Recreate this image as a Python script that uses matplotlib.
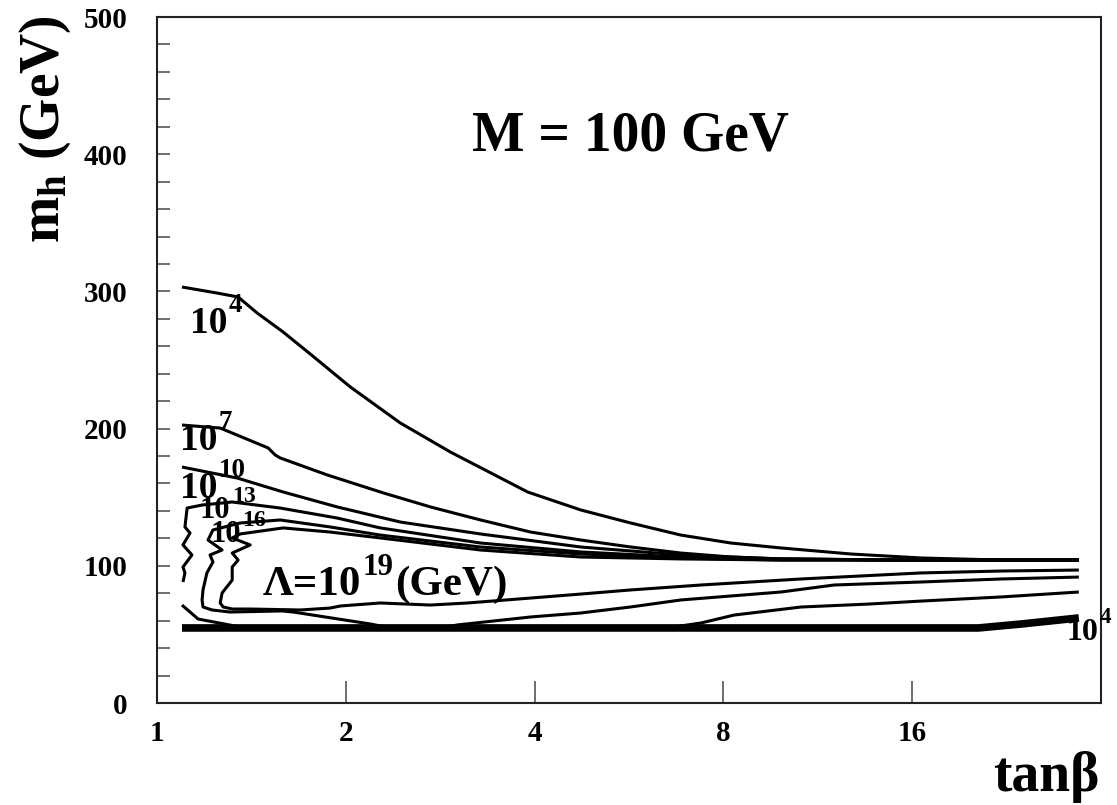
import matplotlib
matplotlib.use('Agg')
import matplotlib.pyplot as plt
from matplotlib.ticker import FixedLocator, NullLocator, MultipleLocator, FixedFormatter

plt.rcParams['font.family'] = ['Liberation Serif', 'DejaVu Serif']
plt.rcParams['font.weight'] = 'bold'
plt.rcParams['mathtext.fontset'] = 'custom'
plt.rcParams['mathtext.rm'] = 'Liberation Serif:bold'
plt.rcParams['mathtext.it'] = 'Liberation Serif:bold'
plt.rcParams['mathtext.bf'] = 'Liberation Serif:bold'
plt.rcParams['mathtext.default'] = 'rm'

# ---------------- data (tan beta, m_h in GeV) ----------------
tb_1e4_up = [1.096, 1.247, 1.347, 1.444, 1.589, 1.755, 2.034, 2.443, 2.937, 3.899,
             4.738, 5.693, 6.843, 8.224, 9.884, 12.78, 16.54, 22.2, 29.5]
mh_1e4_up = [303.2, 298.8, 295.9, 284.3, 270.4, 254.4, 230.3, 204.1, 182.9, 153.8,
             140.7, 131.2, 122.4, 116.6, 113.0, 108.6, 105.7, 104.2, 104.2]

tb_1e7_up = [1.096, 1.261, 1.504, 1.543, 1.572, 1.869, 2.296, 2.729, 3.280, 3.942,
             4.738, 5.693, 6.843, 8.224, 9.884, 15.37, 29.5]
mh_1e7_up = [202.6, 200.4, 185.9, 180.8, 178.6, 166.2, 153.1, 142.9, 133.4, 124.6,
             118.8, 113.7, 109.3, 106.4, 105.0, 104.2, 104.2]

tb_1e10_up = [1.096, 1.342, 1.589, 1.938, 2.443, 3.280, 4.738, 6.843, 9.884, 15.37, 29.5]
mh_1e10_up = [172.0, 164.0, 153.8, 142.9, 131.9, 123.2, 113.7, 107.9, 105.0, 104.2, 104.2]

tb_1e13_up = [1.100, 1.108, 1.100, 1.137, 1.100, 1.129, 1.108, 1.117, 1.180, 1.318,
              1.572, 1.938, 2.270, 3.280, 4.738, 6.843, 9.884, 15.37, 29.5]
mh_1e13_up = [88.2, 94.8, 99.1, 107.9, 115.2, 123.9, 128.3, 142.1, 144.3, 146.5,
              142.1, 134.8, 127.6, 116.6, 110.1, 106.4, 105.0, 104.2, 104.2]

tb_1e13_lo = [1.096, 1.163, 1.357, 1.46, 6.5, 7.365, 8.32, 10.64, 13.61, 16.54, 22.2, 29.5]
mh_1e13_lo = [71.4, 61.2, 55.4, 54.7, 54.7, 58.3, 64.1, 69.96, 72.1, 74.3, 77.3, 80.9]

tb_1e16 = [29.5, 15.37, 9.884, 6.843, 4.738, 3.280, 2.270, 1.889, 1.572, 1.357, 1.228,
           1.206, 1.270, 1.215, 1.228, 1.201, 1.184, 1.180, 1.184, 1.224, 1.308, 1.583,
           1.649, 2.188, 2.357, 2.83, 3.014, 3.942, 4.738, 5.693, 6.843, 9.884, 12.01,
           16.54, 22.2, 29.5]
mh_1e16 = [104.2, 104.2, 104.2, 105.7, 108.6, 113.7, 122.4, 128.3, 133.4, 131.2, 126.1,
           118.8, 111.5, 107.9, 102.8, 94.8, 82.4, 75.1, 70.0, 67.8, 66.3, 67.1,
           66.3, 57.6, 54.7, 54.7, 56.9, 62.7, 65.6, 70.0, 75.1, 80.9, 86.0,
           88.2, 90.4, 91.8]

tb_1e19 = [29.5, 9.884, 6.843, 4.738, 3.280, 2.270, 1.889, 1.589, 1.357, 1.318,
           1.408, 1.318, 1.347, 1.318, 1.318, 1.270, 1.261, 1.275, 1.318, 1.408, 1.692,
           1.889, 1.960, 2.270, 2.729, 3.127, 3.942, 4.738, 5.693, 7.365, 10.64, 16.54,
           22.2, 29.5]
mh_1e19 = [104.2, 104.2, 105.0, 106.4, 111.5, 120.3, 124.6, 127.6, 123.2, 120.3,
           115.2, 109.3, 104.2, 99.1, 89.6, 80.2, 72.9, 70.0, 68.5, 68.5, 67.8,
           69.2, 70.7, 72.9, 71.4, 72.9, 76.5, 79.4, 82.4, 86.0, 90.4, 94.8,
           96.2, 96.9]

tb_1e4_lo = [1.096, 20.4, 23.9, 29.5]
mh_1e4_lo = [54.7, 54.7, 57.6, 62.0]

x_ticks = [1, 2, 4, 8, 16]
x_ticklabels = ['1', '2', '4', '8', '16']
y_ticks = [0, 100, 200, 300, 400, 500]
y_ticklabels = ['0', '100', '200', '300', '400', '500']

# ---------------- figure ----------------
W, H = 1117, 805
fig = plt.figure(figsize=(W / 100, H / 100), dpi=100)
ax = fig.add_axes([157 / W, 1 - 703 / H, (1101 - 157) / W, (703 - 17) / H])
ax.set_xscale('log', base=2)
ax.set_xlim(1, 32)
ax.set_ylim(0, 500)

lw = 2.2
for tb, mh in [(tb_1e4_up, mh_1e4_up), (tb_1e7_up, mh_1e7_up), (tb_1e10_up, mh_1e10_up),
               (tb_1e13_up, mh_1e13_up), (tb_1e13_lo, mh_1e13_lo), (tb_1e16, mh_1e16),
               (tb_1e19, mh_1e19)]:
    ax.plot(tb, mh, color='black', lw=lw, solid_joinstyle='round', solid_capstyle='butt')
ax.plot(tb_1e4_lo, mh_1e4_lo, color='black', lw=5.5, solid_capstyle='butt')

# ticks
ax.xaxis.set_major_locator(FixedLocator(x_ticks))
ax.xaxis.set_major_formatter(FixedFormatter(x_ticklabels))
ax.xaxis.set_minor_locator(NullLocator())
ax.yaxis.set_major_locator(FixedLocator(y_ticks))
ax.yaxis.set_major_formatter(FixedFormatter(y_ticklabels))
ax.yaxis.set_minor_locator(MultipleLocator(20))
ax.tick_params(axis='x', which='major', direction='in', length=16, width=1.2,
               color='#555555', labelsize=21, pad=12)
ax.tick_params(axis='y', which='both', direction='in', length=9, width=1.2,
               color='#555555', labelsize=21, pad=21)
for s in ax.spines.values():
    s.set_linewidth(1.5)
    s.set_color('#222222')
for lab in ax.get_xticklabels() + ax.get_yticklabels():
    lab.set_fontweight('bold')


def power_label(x, y, base, sup, fs, after=None, rise=0.34, ratio=0.72):
    t = ax.text(x, y, base, fontsize=fs, fontweight='bold', ha='left', va='baseline',
                clip_on=False)
    s = ax.annotate(sup, xy=(1, 1), xycoords=t, xytext=(1, rise * fs),
                    textcoords='offset points', fontsize=ratio * fs, fontweight='bold',
                    ha='left', va='top', annotation_clip=False)
    if after:
        ax.annotate(after, xy=(1, 0), xycoords=(s, t), xytext=(1, 0),
                    textcoords='offset points', fontsize=fs, fontweight='bold',
                    ha='left', va='bottom', annotation_clip=False)


# contour labels
power_label(1.129, 269.7, '10', '4', 27)
power_label(1.088, 184.4, '10', '7', 27)
power_label(1.088, 149.4, '10', '10', 27)
power_label(1.171, 134.8, '10', '13', 22, ratio=0.78)
power_label(1.215, 117.3, '10', '16', 22, ratio=0.78)
power_label(1.477, 78.7, 'Λ=10', '19', 31, after='(GeV)', rise=0.30)
power_label(28.2, 45.9, '10', '4', 23)

ax.text(0.501, 0.8265, 'M = 100 GeV', transform=ax.transAxes, fontsize=40,
        fontweight='bold', ha='center', va='center')

# axis titles
fig.text(59 / W, 1 - 15 / H, r'm$_{\mathregular{h}}$ (GeV)', rotation=90,
         rotation_mode='anchor', ha='right', va='baseline', fontsize=40, fontweight='bold')
fig.text(1100 / W, 1 - 791 / H, 'tanβ', ha='right', va='baseline', fontsize=40,
         fontweight='bold')

fig.savefig('out.png', dpi=100)
